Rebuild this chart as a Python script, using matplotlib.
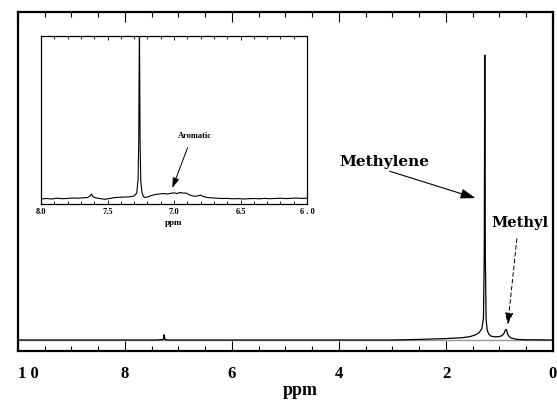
import matplotlib
matplotlib.use("Agg")
import matplotlib.pyplot as plt
from matplotlib.ticker import MultipleLocator, FixedLocator

# ---- main spectrum (ppm, relative intensity) ----
main_ppm = [10.0, 7.40, 7.28, 7.27, 7.26, 7.25, 7.20, 5.0, 3.0, 2.5, 2.0, 1.7, 1.55,
            1.45, 1.38, 1.33, 1.30, 1.285, 1.275, 1.265, 1.25, 1.23, 1.20, 1.15,
            1.08, 1.00, 0.95, 0.92, 0.90, 0.885, 0.875, 0.865, 0.85, 0.82, 0.78,
            0.72, 0.65, 0.55, 0.0]
main_int = [0.0, 0.0, 0.002, 0.018, 0.010, 0.001, 0.0, 0.0, 0.0, 0.002, 0.005, 0.008, 0.012,
            0.018, 0.026, 0.040, 0.075, 0.30, 1.0, 0.30, 0.07, 0.035, 0.020, 0.013,
            0.011, 0.012, 0.016, 0.022, 0.030, 0.036, 0.037, 0.034, 0.022, 0.012, 0.007,
            0.004, 0.002, 0.001, 0.0]

# ---- inset spectrum (ppm, intensity in arbitrary units) ----
inset_ppm = [8.00, 7.96, 7.92, 7.88, 7.84, 7.80, 7.76, 7.72, 7.68, 7.65, 7.63, 7.62, 7.61,
             7.59, 7.56, 7.52, 7.48, 7.44, 7.40, 7.36, 7.33, 7.30, 7.28, 7.27, 7.265,
             7.26, 7.255, 7.25, 7.24, 7.23, 7.22, 7.20, 7.17, 7.14, 7.11, 7.08, 7.05,
             7.02, 7.00, 6.98, 6.95, 6.93, 6.91, 6.89, 6.87, 6.85, 6.82, 6.80, 6.78,
             6.75, 6.72, 6.68, 6.64, 6.60, 6.56, 6.52, 6.48, 6.44, 6.40, 6.36, 6.32,
             6.28, 6.24, 6.20, 6.16, 6.12, 6.08, 6.04, 6.00]
inset_int = [0.0, 0.5, 0.0, 0.8, 0.3, 0.6, 1.0, 0.8, 1.2, 1.5, 3.0, 5.0, 2.5,
             1.2, 0.5, -0.3, 0.6, 1.5, 1.8, 2.0, 2.2, 3.0, 6.0, 20.0, 60.0,
             180.0, 60.0, 18.0, 6.0, 2.5, 1.5, 2.0, 3.5, 4.5, 5.0, 5.5, 5.0,
             5.8, 6.2, 5.5, 6.5, 5.8, 6.0, 4.5, 3.5, 2.8, 3.0, 4.0, 2.5,
             1.5, 1.2, 0.8, 0.5, 0.6, 0.2, 0.4, 0.0, 0.3, 0.5, 0.2, 0.6,
             0.3, 0.5, 0.8, 0.4, 0.7, 1.0, 0.6, 0.8]

main_ticks = [10, 8, 6, 4, 2, 0]
main_ticklabels = ["1 0", "8", "6", "4", "2", "0"]
inset_ticks = [8.0, 7.5, 7.0, 6.5, 6.0]
inset_ticklabels = ["8.0", "7.5", "7.0", "6.5", "6 . 0"]

W, H = 557, 410
fig = plt.figure(figsize=(W / 100, H / 100), dpi=100)
serif = "DejaVu Serif"

def fx(px):
    return px / W

def fy(py):
    return 1 - py / H

# main axes
ax = fig.add_axes([fx(18), fy(352), fx(553) - fx(18), fy(13) - fy(352)])
ax.axhline(0, color="#999999", lw=1.0, zorder=1)
ax.plot(main_ppm, main_int, color="black", lw=0.9, zorder=2)
ax.set_xlim(10, 0)
ax.set_ylim(-0.0386, 1.151)
ax.set_yticks([])
ax.xaxis.set_major_locator(FixedLocator(main_ticks))
ax.set_xticklabels(main_ticklabels, fontfamily="Liberation Serif", fontweight="bold", fontsize=12)
ax.xaxis.set_minor_locator(MultipleLocator(0.5))
ax.tick_params(axis="x", which="both", direction="in", top=True, bottom=True, width=0.8)
ax.tick_params(axis="x", which="major", length=7, pad=10)
ax.tick_params(axis="x", which="minor", length=3.5)
for s in ax.spines.values():
    s.set_linewidth(1.6)
ax.get_xticklabels()[0].set_horizontalalignment("left")

fig.text(fx(300), fy(391), "ppm", ha="center", va="center", fontfamily="Liberation Serif",
         fontweight="bold", fontsize=13)

# annotations
ax.annotate("", xy=(1.40, 0.495), xytext=(3.10, 0.595),
            arrowprops=dict(arrowstyle="-|>,head_length=0.9,head_width=0.3", color="black", lw=0.8))
fig.text(fx(384), fy(162), "Methylene", ha="center", va="center", fontfamily=serif,
         fontweight="bold", fontsize=11)
fig.text(fx(520), fy(223), "Methyl", ha="center", va="center", fontfamily=serif,
         fontweight="bold", fontsize=10.5)
ax.annotate("", xy=(0.85, 0.045), xytext=(0.67, 0.365),
            arrowprops=dict(arrowstyle="-|>,head_length=0.7,head_width=0.25", color="black",
                            lw=0.7, linestyle=(0, (4, 3))))

# inset axes
ia = fig.add_axes([fx(41), fy(205), fx(307) - fx(41), fy(37) - fy(205)])
ia.plot(inset_ppm, inset_int, color="black", lw=0.8)
ia.set_xlim(8.0, 6.0)
ia.set_ylim(-5, 163)
ia.set_yticks([])
ia.xaxis.set_major_locator(FixedLocator(inset_ticks))
ia.set_xticklabels(inset_ticklabels, fontfamily="Liberation Serif", fontweight="bold", fontsize=6)
ia.xaxis.set_minor_locator(MultipleLocator(0.1))
ia.tick_params(axis="x", which="both", direction="in", top=True, bottom=True, width=0.6)
ia.tick_params(axis="x", which="major", length=3, pad=2)
ia.tick_params(axis="x", which="minor", length=2)
for s in ia.spines.values():
    s.set_linewidth(0.9)
fig.text(fx(174), fy(223), "ppm", ha="center", va="center", fontfamily="Liberation Serif",
         fontweight="bold", fontsize=6.5)
fig.text(fx(195), fy(136), "Aromatic", ha="center", va="center", fontfamily="Liberation Serif",
         fontweight="bold", fontsize=6)
ia.annotate("", xy=(7.02, 8.5), xytext=(6.89, 54),
            arrowprops=dict(arrowstyle="-|>,head_length=0.6,head_width=0.2", color="black", lw=0.7))

fig.savefig("out.png", dpi=100)
